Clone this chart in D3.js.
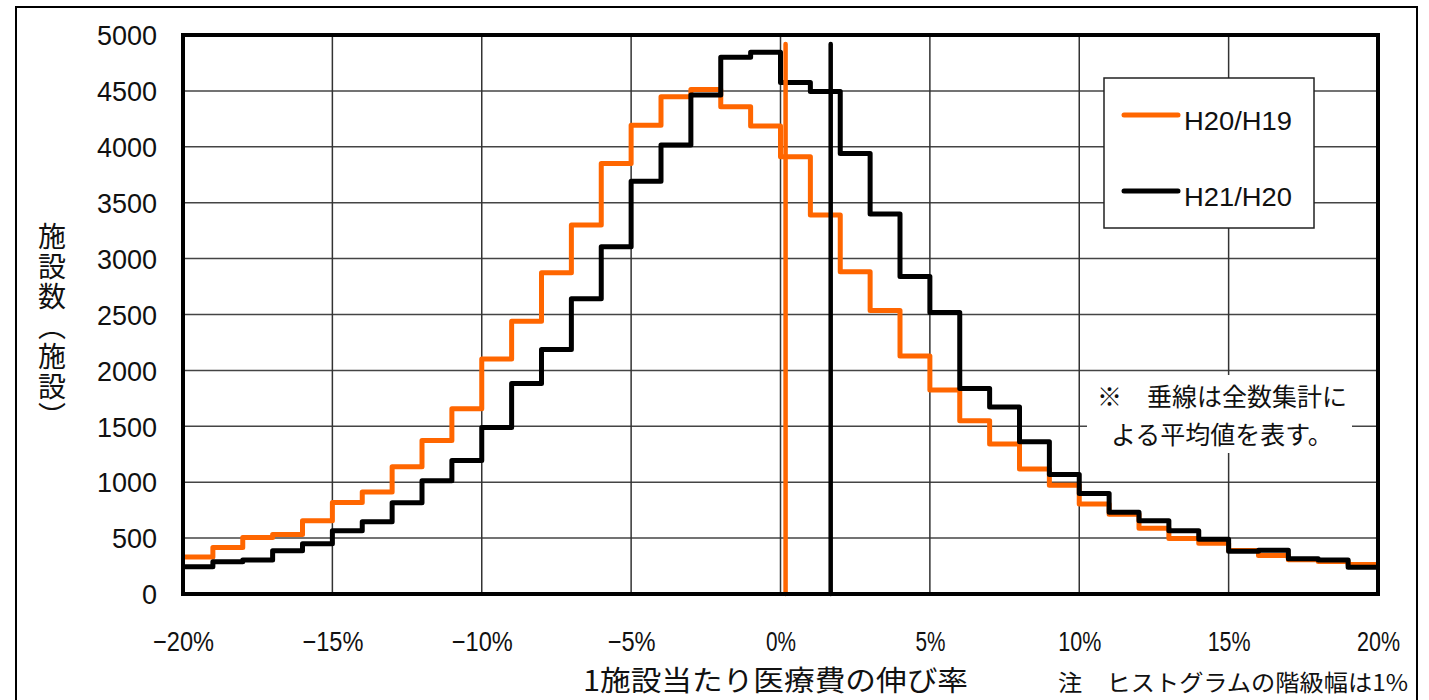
<!DOCTYPE html>
<html><head><meta charset="utf-8">
<script src="https://cdn.jsdelivr.net/npm/d3@7"></script>
<style>html,body{margin:0;padding:0;background:#fff;overflow:hidden}</style>
</head><body>
<svg id="c" width="1429" height="700"></svg>
<script>
// ---- data ----
const binStarts = d3.range(-20, 20); // histogram class lower bounds (%), width 1%
const seriesNames = ["H20/H19", "H21/H20"];
const seriesColors = ["#FF6600", "#000000"];
const h20h19 = [330, 415, 505, 532, 655, 818, 912, 1139, 1372, 1658, 2101, 2440, 2873, 3300, 3850, 4192, 4447, 4513, 4358, 4186,
                3910, 3390, 2882, 2536, 2129, 1825, 1549, 1342, 1118, 972, 806, 713, 589, 496, 455, 388, 344, 306, 290, 264];
const h21h20 = [243, 288, 304, 386, 450, 565, 646, 816, 1013, 1193, 1489, 1882, 2186, 2640, 3106, 3692, 4016, 4463, 4800, 4845,
                4575, 4495, 3940, 3399, 2840, 2517, 1838, 1673, 1361, 1069, 900, 732, 655, 565, 490, 382, 392, 316, 305, 240];
const meanValues = [0.17, 1.68];     // average growth rate (vertical lines)
const meanLineTop = 4920;
const xTicks = [-20, -15, -10, -5, 0, 5, 10, 15, 20];
const yTicks = [0, 500, 1000, 1500, 2000, 2500, 3000, 3500, 4000, 4500, 5000];
const xTitle = "1施設当たり医療費の伸び率";
const yTitle = "施設数（施設）";
const noteText = "注　ヒストグラムの階級幅は1%";
const annotLines = ["※　垂線は全数集計に", "よる平均値を表す。"];

// ---- layout ----
const svg = d3.select("#c");
const L = 183, R = 1378, T = 35, B = 594;
const x = d3.scaleLinear().domain([-20, 20]).range([L, R]);
const y = d3.scaleLinear().domain([0, 5000]).range([B, T]);
const jp = "'Noto Sans CJK JP', sans-serif";
const lat = "'Liberation Sans', Arial, sans-serif";

// outer border
svg.append("rect").attr("x", 16).attr("y", 7).attr("width", 1401).attr("height", 720)
  .attr("fill", "none").attr("stroke", "#000").attr("stroke-width", 2);

// gridlines
const g = svg.append("g");
g.selectAll("line.hy").data(yTicks.slice(1, -1)).join("line")
  .attr("x1", L).attr("x2", R).attr("y1", d => y(d)).attr("y2", d => y(d))
  .attr("stroke", "#444").attr("stroke-width", 1.5);
g.selectAll("line.vx").data(xTicks.slice(1, -1)).join("line")
  .attr("y1", T).attr("y2", B).attr("x1", d => x(d)).attr("x2", d => x(d))
  .attr("stroke", "#333").attr("stroke-width", 1.5);

// annotation white box
svg.append("rect").attr("x", 1087).attr("y", 375).attr("width", 265).attr("height", 78).attr("fill", "#fff");
svg.selectAll("text.annot").data(annotLines).join("text")
  .attr("x", 1222).attr("y", (d, i) => 406 + i * 38)
  .attr("text-anchor", "middle").attr("font-family", jp).attr("font-size", 25)
  .attr("fill", "#111").text(d => d);

// legend box
const lg = svg.append("g");
lg.append("rect").attr("x", 1104).attr("y", 78).attr("width", 210).attr("height", 150)
  .attr("fill", "#fff").attr("stroke", "#222").attr("stroke-width", 1.5);
seriesNames.forEach((n, i) => {
  const ly = 115 + i * 76;
  lg.append("line").attr("x1", 1124).attr("x2", 1178).attr("y1", ly).attr("y2", ly)
    .attr("stroke", seriesColors[i]).attr("stroke-width", 5).attr("stroke-linecap", "round");
  lg.append("text").attr("x", 1184).attr("y", ly + 15).attr("font-family", lat).attr("font-size", 25)
    .attr("textLength", 108).attr("lengthAdjust", "spacingAndGlyphs").attr("fill", "#111").text(n);
});

// histograms (step lines)
const line = d3.line().x(d => x(d[0])).y(d => y(d[1])).curve(d3.curveStepAfter);
[h20h19, h21h20].forEach((vals, i) => {
  const pts = binStarts.map((b, j) => [b, vals[j]]);
  pts.push([20, vals[vals.length - 1]]);
  svg.append("path").attr("d", line(pts)).attr("fill", "none")
    .attr("stroke", seriesColors[i]).attr("stroke-width", 5).attr("stroke-linejoin", "round");
});

// mean vertical lines
svg.selectAll("line.mean").data(meanValues).join("line")
  .attr("x1", d => x(d)).attr("x2", d => x(d)).attr("y1", y(meanLineTop)).attr("y2", B)
  .attr("stroke", (d, i) => seriesColors[i]).attr("stroke-width", 4.5).attr("stroke-linecap", "round");

// plot frame
svg.append("rect").attr("x", L).attr("y", T).attr("width", R - L).attr("height", B - T)
  .attr("fill", "none").attr("stroke", "#000").attr("stroke-width", 4);

// y axis tick labels
const yAxis = d3.axisLeft(y).tickValues(yTicks).tickSize(0).tickPadding(26).tickFormat(d3.format("d"));
const ya = svg.append("g").attr("transform", `translate(${L},0)`).call(yAxis);
ya.select(".domain").remove();
ya.selectAll("text").attr("font-family", lat).attr("font-size", 27).attr("fill", "#111").attr("dy", "0.36em");

// x axis tick labels (condensed)
const fmtX = d => (d < 0 ? "\u2212" + Math.abs(d) : d) + "%";
const xAxis = d3.axisBottom(x).tickValues(xTicks).tickSize(0).tickPadding(0).tickFormat(fmtX);
const xa = svg.append("g").attr("transform", `translate(0,${B})`).call(xAxis);
xa.select(".domain").remove();
xa.selectAll("text").attr("font-family", lat).attr("font-size", 28).attr("fill", "#111")
  .attr("dy", null).attr("y", 57)
  .attr("textLength", d => { const s = fmtX(d); let w = 0; for (const c of s) w += c === "%" ? 17 : c === "\u2212" ? 18 : 13; return w; })
  .attr("lengthAdjust", "spacingAndGlyphs");

// x title
svg.append("text").attr("x", 583).attr("y", 691).attr("font-family", jp).attr("font-size", 28)
  .attr("textLength", 385).attr("lengthAdjust", "spacingAndGlyphs").attr("fill", "#111").text(xTitle);
// note
svg.append("text").attr("x", 1058).attr("y", 691).attr("font-family", jp).attr("font-size", 23)
  .attr("textLength", 350).attr("lengthAdjust", "spacingAndGlyphs").attr("fill", "#111").text(noteText);

// y title (vertical writing)
svg.append("text").attr("x", 52).attr("y", 222)
  .style("writing-mode", "vertical-rl")
  .attr("font-family", jp).attr("font-size", 28).attr("letter-spacing", 2)
  .attr("fill", "#111").text(yTitle);
</script>
</body></html>
